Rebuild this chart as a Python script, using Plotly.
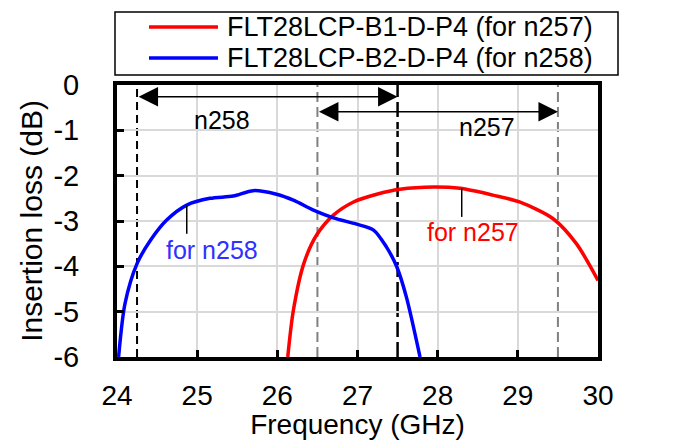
import plotly.graph_objects as go

# ---- data ----
freq_b2 = [24.02, 24.10, 24.25, 24.42, 24.62, 24.87, 25.16, 25.45, 25.70, 25.99,
           26.20, 26.45, 26.70, 26.99, 27.20, 27.36, 27.49, 27.61, 27.78]
loss_b2 = [-6.0, -4.82, -3.94, -3.42, -2.98, -2.65, -2.50, -2.45, -2.33, -2.41,
           -2.54, -2.76, -2.93, -3.07, -3.20, -3.57, -4.01, -4.68, -6.0]

freq_b1 = [26.13, 26.20, 26.33, 26.49, 26.70, 26.95, 27.24, 27.53, 27.95, 28.28,
           28.69, 29.02, 29.44, 29.73, 30.0]
loss_b1 = [-6.0, -4.97, -3.94, -3.31, -2.87, -2.58, -2.41, -2.30, -2.25, -2.28,
           -2.43, -2.58, -2.95, -3.50, -4.31]

series_names = ["FLT28LCP-B1-D-P4 (for n257)", "FLT28LCP-B2-D-P4 (for n258)"]
series_colors = ["#ff0000", "#0000ff"]

x_ticks = [24, 25, 26, 27, 28, 29, 30]
x_ticktext = ["24", "25", "26", "27", "28", "29", "30"]
y_ticks = [0, -1, -2, -3, -4, -5, -6]
y_ticktext = ["0", "-1", "-2", "-3", "-4", "-5", "-6"]

# band edges (GHz)
n258_band = [24.25, 27.5]
n257_band = [26.5, 29.5]
band_arrow_y = [-0.26, -0.59]
band_labels = ["n258", "n257"]
band_label_x = [25.31, 28.62]
band_label_y = [-0.77, -0.93]

# curve labels with leader lines
curve_labels = ["for n258", "for n257"]
curve_label_x = [25.19, 28.44]
curve_label_y = [-3.64, -3.24]
leader_x = [24.87, 28.30]
leader_y0 = [-2.65, -2.28]
leader_y1 = [-3.28, -2.91]

FONT = "Liberation Sans, Arial, sans-serif"

# ---- layout geometry (pixels) ----
W, H = 683, 440
PL, PR, PT, PB = 117, 598, 85, 357


def px_x(p):
    return (p - PL) / (PR - PL)


def px_y(p):
    return (PB - p) / (PB - PT)


fig = go.Figure()
fig.add_trace(go.Scatter(x=freq_b1, y=loss_b1, mode="lines", name=series_names[0],
                         line=dict(color=series_colors[0], width=3.5, shape="spline", smoothing=0.8)))
fig.add_trace(go.Scatter(x=freq_b2, y=loss_b2, mode="lines", name=series_names[1],
                         line=dict(color=series_colors[1], width=3.5, shape="spline", smoothing=0.8)))

shapes = []
# vertical band-edge lines
shapes.append(dict(type="line", xref="x", yref="y", x0=n258_band[0], x1=n258_band[0], y0=-6, y1=0,
                   line=dict(color="black", width=2, dash="8px,5px"), layer="below"))
shapes.append(dict(type="line", xref="x", yref="y", x0=n258_band[1], x1=n258_band[1], y0=-6, y1=0,
                   line=dict(color="black", width=2.5, dash="15px,5px"), layer="below"))
for xv in n257_band:
    shapes.append(dict(type="line", xref="x", yref="y", x0=xv, x1=xv, y0=-6, y1=0,
                       line=dict(color="#808080", width=2, dash="10px,5px"), layer="below"))
# leader lines
for lx, a, b in zip(leader_x, leader_y0, leader_y1):
    shapes.append(dict(type="line", xref="x", yref="y", x0=lx, x1=lx, y0=a, y1=b,
                       line=dict(color="black", width=1.5)))

annotations = []
bands = [n258_band, n257_band]
for band, ay in zip(bands, band_arrow_y):
    annotations.append(dict(x=band[1], y=ay, ax=band[0], ay=ay, xref="x", yref="y",
                            axref="x", ayref="y", text="", showarrow=True,
                            arrowhead=2, arrowside="end+start", arrowsize=2.6,
                            arrowwidth=1.5, arrowcolor="black"))
for t, xv, yv in zip(band_labels, band_label_x, band_label_y):
    annotations.append(dict(x=xv, y=yv, xref="x", yref="y", text=t, showarrow=False,
                            font=dict(family=FONT, size=25, color="black")))
label_colors = ["#3030ff", "#ff0000"]
for t, xv, yv, c in zip(curve_labels, curve_label_x, curve_label_y, label_colors):
    annotations.append(dict(x=xv, y=yv, xref="x", yref="y", text=t, showarrow=False,
                            font=dict(family=FONT, size=25, color=c)))

# ---- legend box (drawn in paper coordinates) ----
shapes.append(dict(type="rect", xref="paper", yref="paper",
                   x0=px_x(115), x1=px_x(618), y0=px_y(75), y1=px_y(12),
                   line=dict(color="black", width=1.5), fillcolor="white"))
for row_py, name, col in zip([27, 58], series_names, series_colors):
    shapes.append(dict(type="line", xref="paper", yref="paper",
                       x0=px_x(149), x1=px_x(218), y0=px_y(row_py), y1=px_y(row_py),
                       line=dict(color=col, width=3.5)))
    annotations.append(dict(x=px_x(225), y=px_y(row_py), xref="paper", yref="paper",
                            xanchor="left", yanchor="middle", text=name, showarrow=False,
                            font=dict(family=FONT, size=27, color="black")))

fig.update_layout(
    width=W, height=H,
    margin=dict(l=PL, r=W - PR, t=PT, b=H - PB, autoexpand=False),
    paper_bgcolor="white", plot_bgcolor="white",
    font=dict(family=FONT, color="black", size=28),
    shapes=shapes, annotations=annotations,
    showlegend=False,
)
fig.update_xaxes(range=[24, 30], tickvals=x_ticks, ticktext=x_ticktext,
                 showgrid=True, gridcolor="#d9d9d9", gridwidth=1.5,
                 showline=True, linecolor="black", linewidth=4, mirror=True,
                 ticks="inside", ticklen=7, tickwidth=3, tickcolor="black",
                 tickfont=dict(family=FONT, size=28), ticklabelstandoff=10,
                 zeroline=False, automargin=False,
                 title=dict(text="Frequency (GHz)", font=dict(family=FONT, size=28), standoff=0))
fig.update_yaxes(range=[-6, 0], tickvals=y_ticks, ticktext=y_ticktext,
                 showgrid=True, gridcolor="#d9d9d9", gridwidth=1.5,
                 showline=True, linecolor="black", linewidth=4, mirror=True,
                 ticks="inside", ticklen=7, tickwidth=3, tickcolor="black",
                 tickfont=dict(family=FONT, size=29), ticklabelstandoff=28,
                 zeroline=False, automargin=False,
                 title=dict(text="Insertion loss (dB)", font=dict(family=FONT, size=30), standoff=3))

fig.write_html("out.html", config={"displayModeBar": False},
               post_script="document.body.style.margin='0';")
